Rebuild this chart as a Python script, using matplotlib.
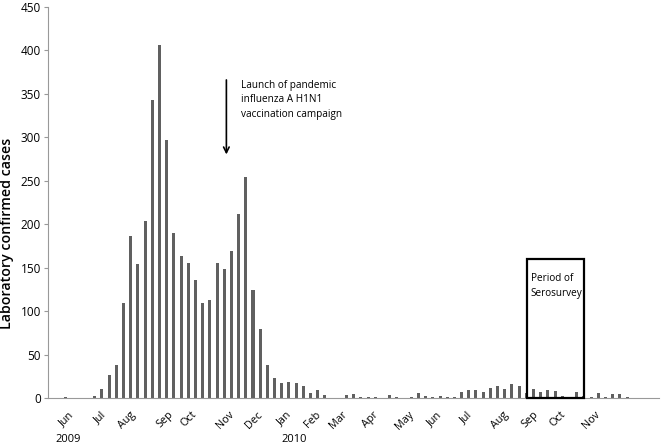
import matplotlib.pyplot as plt
from matplotlib.patches import Rectangle

plt.rcParams['font.family'] = ['Open Sans', 'DejaVu Sans']

# weekly laboratory confirmed cases, late May 2009 to Nov 2010
cases = [1, 0, 0, 0, 3, 11, 27, 38, 110, 187,
         154, 204, 343, 406, 297, 190, 163, 155, 136, 110,
         113, 155, 149, 169, 212, 254, 124, 80, 38, 23,
         17, 19, 17, 14, 6, 10, 4, 0, 0, 4,
         5, 1, 1, 2, 0, 4, 2, 0, 1, 6,
         3, 1, 3, 2, 2, 7, 10, 9, 7, 12,
         14, 11, 16, 14, 6, 11, 7, 9, 8, 3,
         1, 7, 3, 2, 6, 2, 5, 5, 2]
weeks = list(range(len(cases)))

month_labels = ['Jun', 'Jul', 'Aug', 'Sep', 'Oct', 'Nov', 'Dec', 'Jan', 'Feb',
                'Mar', 'Apr', 'May', 'Jun', 'Jul', 'Aug', 'Sep', 'Oct', 'Nov']
month_pos = [0.1, 4.7, 8.5, 13.8, 17.1, 22.2, 26.1, 30.3, 34.3,
             37.9, 42.3, 47.1, 51.2, 55.6, 60.3, 64.5, 68.4, 73.1]

fig = plt.figure(figsize=(6.61, 4.46), dpi=100)
ax = fig.add_axes([0.0726, 0.107, 0.925, 0.878])

ax.bar(weeks, cases, width=0.42, color='#606060')

ax.set_xlim(-2.5, 82.5)
ax.set_ylim(0, 450)
ax.set_yticks(range(0, 451, 50))
ax.tick_params(axis='y', length=3, color='#999999', labelsize=8.5, pad=2)
ax.set_xticks(month_pos)
ax.set_xticklabels(month_labels, rotation=45, ha='center', va='top', fontsize=7.8)
ax.tick_params(axis='x', length=0, pad=8)

for s in ['top', 'right']:
    ax.spines[s].set_visible(False)
ax.spines['left'].set_color('#999999')
ax.spines['bottom'].set_color('#999999')

ax.set_ylabel('Laboratory confirmed cases', fontsize=10.2, fontweight='semibold')
ax.yaxis.set_label_coords(-0.055, 0.42)

# year labels under the month labels
ax.text(0.3, -47, '2009', ha='center', va='center', fontsize=8, clip_on=False)
ax.text(31.7, -47, '2010', ha='center', va='center', fontsize=8, clip_on=False)

# vaccination campaign arrow
ax.annotate('', xy=(22.3, 277), xytext=(22.3, 369),
            arrowprops=dict(arrowstyle='->', color='black', lw=1.2))
ax.text(24.3, 366, 'Launch of pandemic\ninfluenza A H1N1\nvaccination campaign',
        ha='left', va='top', fontsize=7.2, linespacing=1.45)

# serosurvey box
ax.add_patch(Rectangle((64.15, 0), 7.85, 160, fill=False, edgecolor='black', lw=1.6,
                       clip_on=False, zorder=3))
ax.text(64.6, 144, 'Period of\nSerosurvey', ha='left', va='top', fontsize=7.2, linespacing=1.45)

fig.savefig('out.png', dpi=100)
